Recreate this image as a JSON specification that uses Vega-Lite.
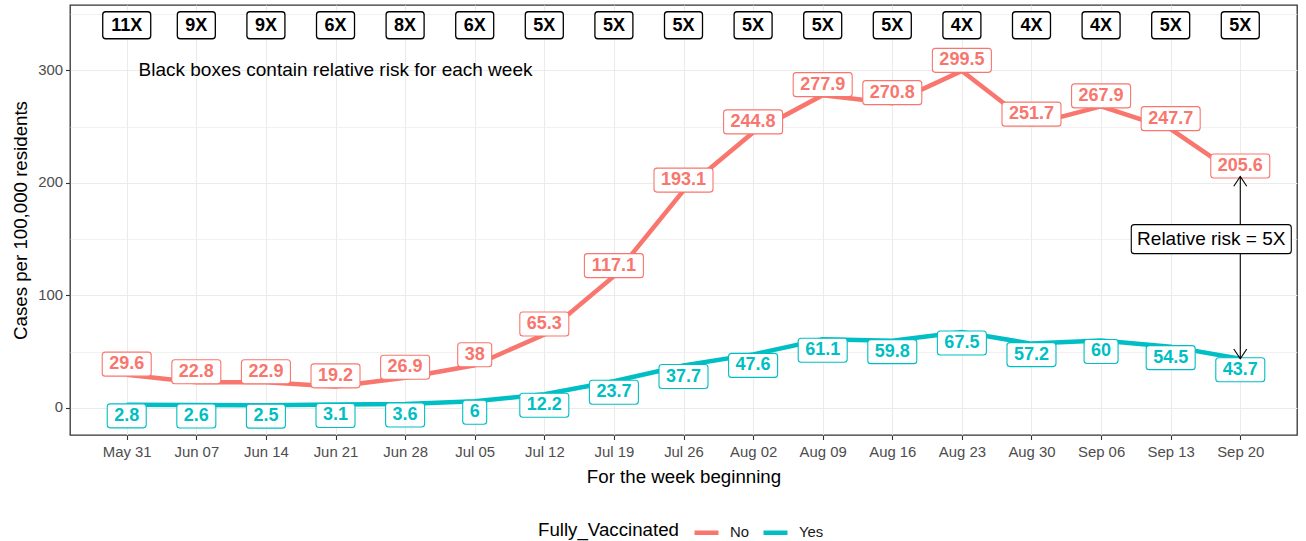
{
  "$schema": "https://vega.github.io/schema/vega-lite/v6.json",
  "width": 1227,
  "height": 430,
  "autosize": {"type": "none"},
  "padding": {"left": 70, "top": 5, "right": 9, "bottom": 106},
  "background": "white",
  "config": {
    "font": "Liberation Sans",
    "view": {"stroke": "#333333", "strokeWidth": 1.3},
    "axis": {
      "domain": false,
      "gridColor": "#EBEBEB",
      "gridWidth": 1.1,
      "tickColor": "#333333",
      "tickSize": 4.5,
      "tickWidth": 1.1,
      "labelColor": "#4D4D4D",
      "labelFontSize": 14.9,
      "labelFont": "Liberation Sans",
      "titleFont": "Liberation Sans",
      "titleFontSize": 18.7,
      "titleFontWeight": "normal",
      "titleColor": "black"
    }
  },
  "datasets": {
    "cases": [
      {"week": "May 31", "vax": "No", "cases": 29.6},
      {"week": "Jun 07", "vax": "No", "cases": 22.8},
      {"week": "Jun 14", "vax": "No", "cases": 22.9},
      {"week": "Jun 21", "vax": "No", "cases": 19.2},
      {"week": "Jun 28", "vax": "No", "cases": 26.9},
      {"week": "Jul 05", "vax": "No", "cases": 38},
      {"week": "Jul 12", "vax": "No", "cases": 65.3},
      {"week": "Jul 19", "vax": "No", "cases": 117.1},
      {"week": "Jul 26", "vax": "No", "cases": 193.1},
      {"week": "Aug 02", "vax": "No", "cases": 244.8},
      {"week": "Aug 09", "vax": "No", "cases": 277.9},
      {"week": "Aug 16", "vax": "No", "cases": 270.8},
      {"week": "Aug 23", "vax": "No", "cases": 299.5},
      {"week": "Aug 30", "vax": "No", "cases": 251.7},
      {"week": "Sep 06", "vax": "No", "cases": 267.9},
      {"week": "Sep 13", "vax": "No", "cases": 247.7},
      {"week": "Sep 20", "vax": "No", "cases": 205.6},
      {"week": "May 31", "vax": "Yes", "cases": 2.8},
      {"week": "Jun 07", "vax": "Yes", "cases": 2.6},
      {"week": "Jun 14", "vax": "Yes", "cases": 2.5},
      {"week": "Jun 21", "vax": "Yes", "cases": 3.1},
      {"week": "Jun 28", "vax": "Yes", "cases": 3.6},
      {"week": "Jul 05", "vax": "Yes", "cases": 6},
      {"week": "Jul 12", "vax": "Yes", "cases": 12.2},
      {"week": "Jul 19", "vax": "Yes", "cases": 23.7},
      {"week": "Jul 26", "vax": "Yes", "cases": 37.7},
      {"week": "Aug 02", "vax": "Yes", "cases": 47.6},
      {"week": "Aug 09", "vax": "Yes", "cases": 61.1},
      {"week": "Aug 16", "vax": "Yes", "cases": 59.8},
      {"week": "Aug 23", "vax": "Yes", "cases": 67.5},
      {"week": "Aug 30", "vax": "Yes", "cases": 57.2},
      {"week": "Sep 06", "vax": "Yes", "cases": 60},
      {"week": "Sep 13", "vax": "Yes", "cases": 54.5},
      {"week": "Sep 20", "vax": "Yes", "cases": 43.7}
    ],
    "rr": [
      {"week": "May 31", "rr": "11X"},
      {"week": "Jun 07", "rr": "9X"},
      {"week": "Jun 14", "rr": "9X"},
      {"week": "Jun 21", "rr": "6X"},
      {"week": "Jun 28", "rr": "8X"},
      {"week": "Jul 05", "rr": "6X"},
      {"week": "Jul 12", "rr": "5X"},
      {"week": "Jul 19", "rr": "5X"},
      {"week": "Jul 26", "rr": "5X"},
      {"week": "Aug 02", "rr": "5X"},
      {"week": "Aug 09", "rr": "5X"},
      {"week": "Aug 16", "rr": "5X"},
      {"week": "Aug 23", "rr": "4X"},
      {"week": "Aug 30", "rr": "4X"},
      {"week": "Sep 06", "rr": "4X"},
      {"week": "Sep 13", "rr": "5X"},
      {"week": "Sep 20", "rr": "5X"}
    ],
    "arrow": [
      {"week": "Sep 20", "lo": 43.7, "hi": 205.6, "note": "Relative risk = 5X", "notey": 150}
    ],
    "annot": [
      {"week": "Jun 21", "y": 300, "note": "Black boxes contain relative risk for each week"}
    ]
  },
  "layer": [
    {
      "data": {"name": "cases"},
      "mark": {"type": "line", "strokeWidth": 4.5},
      "encoding": {
        "x": {
          "field": "week", "type": "ordinal", "sort": null,
          "scale": {"type": "point", "padding": 0.815,
            "domain": ["May 31","Jun 07","Jun 14","Jun 21","Jun 28","Jul 05","Jul 12","Jul 19","Jul 26","Aug 02","Aug 09","Aug 16","Aug 23","Aug 30","Sep 06","Sep 13","Sep 20"]},
          "axis": {"title": "For the week beginning", "labelAngle": 0, "labelPadding": 5, "titlePadding": 8, "grid": true}
        },
        "y": {
          "field": "cases", "type": "quantitative",
          "scale": {"domain": [-24, 358], "nice": false, "zero": false},
          "axis": {
            "title": "Cases per 100,000 residents",
            "values": [0, 50, 100, 150, 200, 250, 300, 350],
            "labelExpr": "datum.value % 100 == 0 ? datum.label : ''",
            "tickOpacity": {"condition": {"test": "datum.value % 100 == 0", "value": 1}, "value": 0},
            "gridWidth": {"condition": {"test": "datum.value % 100 == 0", "value": 1.1}, "value": 0.7},
            "labelPadding": 3,
            "titlePadding": 7
          }
        },
        "color": {
          "field": "vax", "type": "nominal",
          "scale": {"domain": ["No", "Yes"], "range": ["#F8766D", "#00BFC4"]},
          "legend": {
            "title": "Fully_Vaccinated",
            "orient": "none",
            "legendX": 468,
            "legendY": 513,
            "direction": "horizontal",
            "titleOrient": "left",
            "titleFontSize": 18.7,
            "titleFontWeight": "normal",
            "titleColor": "black",
            "titlePadding": 13,
            "titleBaseline": "middle",
            "labelFontSize": 14.9,
            "labelColor": "#1A1A1A",
            "labelOffset": 9,
            "columnPadding": 4,
            "symbolType": "stroke",
            "symbolSize": 576,
            "symbolStrokeWidth": 4.5
          }
        }
      }
    },
    {
      "data": {"name": "cases"},
      "mark": {
        "type": "rect", "fill": "white", "strokeWidth": 1.1, "cornerRadius": 3,
        "xOffset": {"expr": "-(indexof('' + datum.cases, '.') >= 0 ? 10 * length('' + datum.cases) + 9 : 10 * length('' + datum.cases) + 14) / 2"},
        "x2Offset": {"expr": "(indexof('' + datum.cases, '.') >= 0 ? 10 * length('' + datum.cases) + 9 : 10 * length('' + datum.cases) + 14) / 2"},
        "yOffset": {"expr": "datum.vax == 'No' ? -22.5 : -1"},
        "y2Offset": {"expr": "datum.vax == 'No' ? 1.5 : 23"}
      },
      "encoding": {
        "x": {"field": "week", "type": "ordinal", "sort": null},
        "x2": {"field": "week"},
        "y": {"field": "cases", "type": "quantitative"},
        "y2": {"field": "cases"},
        "stroke": {
          "field": "vax", "type": "nominal",
          "scale": {"domain": ["No", "Yes"], "range": ["#F8766D", "#00BFC4"]},
          "legend": null
        }
      }
    },
    {
      "data": {"name": "cases"},
      "mark": {
        "type": "text", "fontSize": 18, "fontWeight": "bold", "baseline": "middle", "align": "center",
        "dy": {"expr": "datum.vax == 'No' ? -10.5 : 11"}
      },
      "encoding": {
        "x": {"field": "week", "type": "ordinal", "sort": null},
        "y": {"field": "cases", "type": "quantitative"},
        "text": {"field": "cases", "type": "quantitative"},
        "fill": {
          "field": "vax", "type": "nominal",
          "scale": {"domain": ["No", "Yes"], "range": ["#F8766D", "#00BFC4"]},
          "legend": null
        }
      }
    },
    {
      "data": {"name": "arrow"},
      "mark": {"type": "rule", "color": "black", "strokeWidth": 1.1},
      "encoding": {
        "x": {"field": "week", "type": "ordinal", "sort": null},
        "y": {"field": "lo", "type": "quantitative"},
        "y2": {"field": "hi"}
      }
    },
    {
      "data": {"name": "arrow"},
      "mark": {"type": "point", "shape": "M-0.5,0.75L0,0L0.5,0.75", "filled": false, "stroke": "black", "strokeWidth": 1.1, "size": 676, "opacity": 1},
      "encoding": {
        "x": {"field": "week", "type": "ordinal", "sort": null},
        "y": {"field": "hi", "type": "quantitative"}
      }
    },
    {
      "data": {"name": "arrow"},
      "mark": {"type": "point", "shape": "M-0.5,-0.75L0,0L0.5,-0.75", "filled": false, "stroke": "black", "strokeWidth": 1.1, "size": 676, "opacity": 1},
      "encoding": {
        "x": {"field": "week", "type": "ordinal", "sort": null},
        "y": {"field": "lo", "type": "quantitative"}
      }
    },
    {
      "data": {"name": "arrow"},
      "mark": {"type": "rect", "fill": "white", "stroke": "black", "strokeWidth": 1.1, "cornerRadius": 3,
        "xOffset": -109, "x2Offset": 51, "yOffset": -14.5, "y2Offset": 14.5},
      "encoding": {
        "x": {"field": "week", "type": "ordinal", "sort": null},
        "x2": {"field": "week"},
        "y": {"field": "notey", "type": "quantitative"},
        "y2": {"field": "notey"}
      }
    },
    {
      "data": {"name": "arrow"},
      "mark": {"type": "text", "fontSize": 19, "color": "black", "baseline": "middle", "align": "center", "dx": -29},
      "encoding": {
        "x": {"field": "week", "type": "ordinal", "sort": null},
        "y": {"field": "notey", "type": "quantitative"},
        "text": {"field": "note"}
      }
    },
    {
      "data": {"name": "rr"},
      "mark": {"type": "rect", "fill": "white", "stroke": "black", "strokeWidth": 1.3, "cornerRadius": 3,
        "xOffset": {"expr": "-(10 * length(datum.rr) + 18) / 2"},
        "x2Offset": {"expr": "(10 * length(datum.rr) + 18) / 2"},
        "yOffset": -13.5, "y2Offset": 13.5},
      "encoding": {
        "x": {"field": "week", "type": "ordinal", "sort": null},
        "x2": {"field": "week"},
        "y": {"datum": 340, "type": "quantitative"},
        "y2": {"datum": 340}
      }
    },
    {
      "data": {"name": "rr"},
      "mark": {"type": "text", "fontSize": 18, "fontWeight": "bold", "color": "black", "baseline": "middle", "align": "center", "dy": 1},
      "encoding": {
        "x": {"field": "week", "type": "ordinal", "sort": null},
        "y": {"datum": 340, "type": "quantitative"},
        "text": {"field": "rr"}
      }
    },
    {
      "data": {"name": "annot"},
      "mark": {"type": "text", "fontSize": 19, "color": "black", "baseline": "middle", "align": "center"},
      "encoding": {
        "x": {"field": "week", "type": "ordinal", "sort": null},
        "y": {"field": "y", "type": "quantitative"},
        "text": {"field": "note"}
      }
    }
  ]
}
